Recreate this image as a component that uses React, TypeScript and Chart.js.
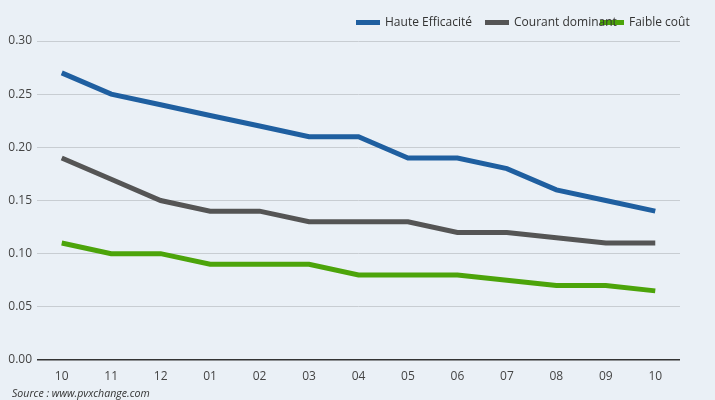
import React, { useEffect, useRef } from "react";
import { Chart, registerables } from "chart.js";

Chart.register(...registerables);

const categories = ["10", "11", "12", "01", "02", "03", "04", "05", "06", "07", "08", "09", "10"];
const hauteEfficacite = [0.27, 0.25, 0.24, 0.23, 0.22, 0.21, 0.21, 0.19, 0.19, 0.18, 0.16, 0.15, 0.14];
const courantDominant = [0.19, 0.17, 0.15, 0.14, 0.14, 0.13, 0.13, 0.13, 0.12, 0.12, 0.115, 0.11, 0.11];
const faibleCout = [0.11, 0.1, 0.1, 0.09, 0.09, 0.09, 0.08, 0.08, 0.08, 0.075, 0.07, 0.07, 0.065];
const seriesNames = ["Haute Efficacité", "Courant dominant", "Faible coût"];
const seriesColors = ["#1f5fa0", "#555555", "#4ca40a"];
const sourceText = "Source : www.pvxchange.com";

const FONT = "'Open Sans', 'Noto Sans', sans-serif";
const BG = "#eaf0f6";

const bgAndLegendPlugin = {
  id: "bgAndLegend",
  beforeDraw(chart: any) {
    const ctx = chart.ctx;
    ctx.save();
    ctx.fillStyle = BG;
    ctx.fillRect(0, 0, chart.width, chart.height);
    ctx.restore();
  },
  afterDraw(chart: any) {
    const ctx = chart.ctx;
    ctx.save();
    // legend (items placed with fixed starts, as in the reference)
    const starts = [356, 485, 600];
    ctx.font = `12px ${FONT}`;
    ctx.textBaseline = "middle";
    seriesNames.forEach((name, i) => {
      ctx.fillStyle = seriesColors[i];
      ctx.fillRect(starts[i], 20, 24, 5);
    });
    seriesNames.forEach((name, i) => {
      ctx.fillStyle = "#333";
      ctx.fillText(name, starts[i] + 29, 23);
    });
    // source
    ctx.font = `italic 10.6px ${FONT}`;
    ctx.fillStyle = "#333";
    ctx.textBaseline = "middle";
    ctx.fillText(sourceText, 12, 393.5);
    ctx.restore();
  },
};

export default function App() {
  const ref = useRef<HTMLCanvasElement>(null);
  useEffect(() => {
    document.body.style.margin = "0";
    const datasets = [hauteEfficacite, courantDominant, faibleCout].map((d, i) => ({
      label: seriesNames[i],
      data: d,
      borderColor: seriesColors[i],
      backgroundColor: seriesColors[i],
      borderWidth: 5,
      pointRadius: 0,
      tension: 0,
      fill: false,
    }));
    const chart = new Chart(ref.current!, {
      type: "line",
      data: { labels: categories, datasets },
      options: {
        animation: false,
        responsive: false,
        maintainAspectRatio: false,
        layout: { padding: { top: 41, right: 35, left: 0, bottom: 0 } },
        plugins: { legend: { display: false }, tooltip: { enabled: false } },
        scales: {
          x: {
            offset: true,
            grid: { display: false, drawTicks: false },
            border: { display: false },
            ticks: { color: "#444", font: { family: FONT, size: 12 }, padding: 9, maxRotation: 0 },
            afterFit(scale: any) {
              scale.height = 40;
            },
          },
          y: {
            min: 0,
            max: 0.3,
            ticks: {
              stepSize: 0.05,
              color: "#444",
              font: { family: FONT, size: 12 },
              padding: 5,
              callback: (v: any) => Number(v).toFixed(2),
            },
            grid: {
              drawTicks: false,
              color: (c: any) => (c.tick && c.tick.value === 0 ? "#333" : "#c8cdd2"),
              lineWidth: (c: any) => (c.tick && c.tick.value === 0 ? 1.5 : 1),
            },
            border: { display: false },
            afterFit(scale: any) {
              scale.width = 37;
            },
          },
        },
      },
      plugins: [bgAndLegendPlugin],
    });
    return () => chart.destroy();
  }, []);
  return <canvas ref={ref} width={715} height={400} style={{ display: "block" }} />;
}
